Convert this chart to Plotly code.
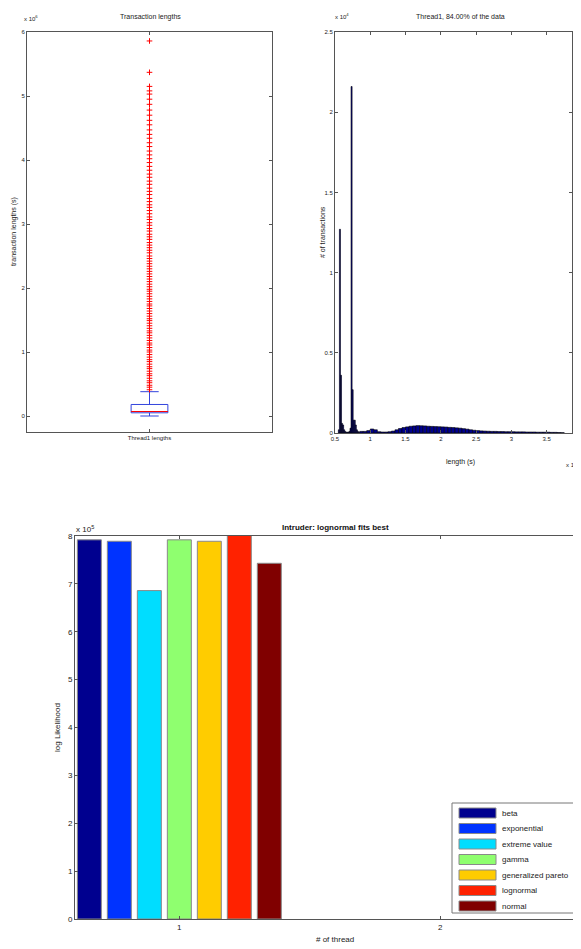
import plotly.graph_objects as go

# window is 581x949; page body has an 8px margin, so the figure is 8px smaller
WIN_W, WIN_H = 581, 949
OFF = 8
W, H = WIN_W - OFF, WIN_H - OFF

# ---------------- data ----------------
# Top-left: boxplot of thread transaction lengths (x 10^6)
box_label = "Thread1 lengths"
box_q1, box_median, box_q3 = 0.05, 0.07, 0.18
box_lower, box_upper = 0.0, 0.38
outliers = [0.41, 0.45, 0.48, 0.52, 0.55, 0.59, 0.63, 0.66, 0.70, 0.74, 0.77, 0.81, 0.85,
            0.88, 0.92, 0.96, 1.00, 1.03, 1.07, 1.11, 1.14, 1.18, 1.22, 1.26, 1.30, 1.33,
            1.37, 1.41, 1.45, 1.49, 1.52, 1.56, 1.60, 1.64, 1.68, 1.72, 1.75, 1.79, 1.83,
            1.87, 1.91, 1.95, 1.98, 2.02, 2.06, 2.10, 2.14, 2.18, 2.22, 2.26, 2.30, 2.34,
            2.38, 2.42, 2.46, 2.50, 2.55, 2.59, 2.63, 2.67, 2.71, 2.76, 2.80, 2.84, 2.89,
            2.93, 2.98, 3.02, 3.07, 3.11, 3.16, 3.21, 3.26, 3.30, 3.35, 3.40, 3.46, 3.51,
            3.56, 3.62, 3.67, 3.73, 3.78, 3.84, 3.90, 3.96, 4.02, 4.08, 4.14, 4.21, 4.27,
            4.34, 4.40, 4.47, 4.55, 4.62, 4.70, 4.78, 4.87, 4.95, 5.03, 5.08, 5.15, 5.37,
            5.86]

# Top-right: histogram of lengths (x 10^6), counts (x 10^4)
hist_centers = [0.555, 0.57, 0.585, 0.60, 0.615, 0.63, 0.645, 0.66, 0.675, 0.69,
                0.705, 0.72, 0.735, 0.75, 0.765, 0.78, 0.795, 0.81, 0.825, 0.84,
                0.875, 0.925, 0.975, 1.025, 1.075, 1.125, 1.175, 1.225, 1.275, 1.325,
                1.375, 1.425, 1.475, 1.525, 1.575, 1.625, 1.675, 1.725, 1.775, 1.825,
                1.875, 1.925, 1.975, 2.025, 2.075, 2.125, 2.175, 2.225, 2.275, 2.325,
                2.375, 2.425, 2.475, 2.525, 2.575, 2.625, 2.675, 2.725, 2.775, 2.825,
                2.875, 2.925, 2.975, 3.025, 3.075, 3.125, 3.175, 3.225, 3.275, 3.325,
                3.375, 3.425, 3.475, 3.525, 3.575, 3.625, 3.675, 3.725]
hist_widths = [0.015] * 20 + [0.05] * 58
hist_counts = [0.02, 1.27, 0.36, 0.06, 0.05, 0.02, 0.01, 0.005, 0.005, 0.005,
               0.01, 0.03, 2.16, 0.27, 0.08, 0.08, 0.05, 0.02, 0.01, 0.005,
               0.01, 0.01, 0.015, 0.025, 0.02, 0.008, 0.006, 0.006, 0.008, 0.012,
               0.02, 0.028, 0.034, 0.038, 0.042, 0.044, 0.046, 0.045, 0.044, 0.042,
               0.041, 0.04, 0.039, 0.038, 0.037, 0.035, 0.034, 0.032, 0.03, 0.027,
               0.024, 0.02, 0.017, 0.015, 0.013, 0.012, 0.011, 0.01, 0.01, 0.009,
               0.009, 0.008, 0.008, 0.008, 0.007, 0.007, 0.007, 0.006, 0.006, 0.006,
               0.005, 0.005, 0.005, 0.005, 0.004, 0.004, 0.003, 0.002]

# Bottom: log likelihood per distribution (x 10^5)
distributions = ["beta", "exponential", "extreme value", "gamma",
                 "generalized pareto", "lognormal", "normal"]
loglik = [7.92, 7.89, 6.86, 7.92, 7.89, 8.02, 7.43]
dist_colors = ["#00008F", "#0033FF", "#00DDFF", "#8FFF6F", "#FFCC00", "#FF2200", "#800000"]
thread_ticks = [1, 2]

# ---------------- figure ----------------
fig = go.Figure()
FONT = "Liberation Sans, Arial, sans-serif"
small = dict(family=FONT, size=6, color="#222")
small7 = dict(family=FONT, size=7, color="#222")
mid = dict(family=FONT, size=8, color="#222")

# top-left box
box_w = 0.15
fig.add_trace(go.Box(
    x=[1], q1=[box_q1], median=[box_median], q3=[box_q3],
    lowerfence=[box_lower], upperfence=[box_upper],
    width=box_w, whiskerwidth=0.5, boxpoints=False,
    line=dict(color="#3344DD", width=1), fillcolor="rgba(0,0,0,0)",
    xaxis="x", yaxis="y", showlegend=False))
fig.add_trace(go.Scatter(
    x=[1 - box_w / 2, 1 + box_w / 2], y=[box_median, box_median], mode="lines",
    line=dict(color="#FF0000", width=1), xaxis="x", yaxis="y", showlegend=False))
fig.add_trace(go.Scatter(
    x=[1] * len(outliers), y=outliers, mode="markers",
    marker=dict(symbol="cross-thin", size=4, line=dict(color="#FF0000", width=1)),
    xaxis="x", yaxis="y", showlegend=False))

# top-right histogram
fig.add_trace(go.Bar(
    x=hist_centers, y=hist_counts, width=hist_widths,
    marker=dict(color="#00008F", line=dict(color="#000000", width=0.6)),
    xaxis="x2", yaxis="y2", showlegend=False))

# bottom grouped bars
step, bw = 0.115, 0.092
n = len(distributions)
for i, (name, v, c) in enumerate(zip(distributions, loglik, dist_colors)):
    fig.add_trace(go.Bar(
        x=[thread_ticks[0]], y=[v], name=name, width=bw,
        offset=(i - (n - 1) / 2) * step - bw / 2,
        marker=dict(color=c, line=dict(color="#8A8A8A", width=1)),
        xaxis="x3", yaxis="y3", showlegend=False))


def px_x(p):
    return (p - OFF) / W


def px_y(p):
    return 1 - (p - OFF) / H


axis_common = dict(showline=True, linecolor="#555", linewidth=1, mirror="ticks",
                   ticks="inside", ticklen=3, tickcolor="#555", showgrid=False,
                   zeroline=False, automargin=False)

fig.update_layout(
    width=W, height=H, margin=dict(l=0, r=0, t=0, b=0),
    plot_bgcolor="white", paper_bgcolor="white", barmode="overlay",
    xaxis=dict(domain=[px_x(27), px_x(272)], range=[0.5, 1.5], tickvals=[1],
               ticktext=[box_label], tickfont=small, anchor="y", **axis_common),
    yaxis=dict(domain=[px_y(432), px_y(32)], range=[-0.25, 6], tickvals=[0, 1, 2, 3, 4, 5, 6],
               tickfont=small, anchor="x", **axis_common),
    xaxis2=dict(domain=[px_x(335), px_x(572)], range=[0.5, 3.86],
                tickvals=[0.5, 1, 1.5, 2, 2.5, 3, 3.5], tickfont=small, anchor="y2",
                **axis_common),
    yaxis2=dict(domain=[px_y(433), px_y(32)], range=[0, 2.5],
                tickvals=[0, 0.5, 1, 1.5, 2, 2.5], tickfont=small, anchor="x2", **axis_common),
    xaxis3=dict(domain=[px_x(75), 1.0], range=[0.6, 2.54], tickvals=thread_ticks,
                tickfont=mid, anchor="y3", **axis_common),
    yaxis3=dict(domain=[px_y(919), px_y(536)], range=[0, 8],
                tickvals=[0, 1, 2, 3, 4, 5, 6, 7, 8], tickfont=mid, anchor="x3", **axis_common),
)

ann = []


def A(text, x, y, font, angle=0, xanchor="center", yanchor="middle"):
    ann.append(dict(text=text, x=px_x(x), y=px_y(y), xref="paper", yref="paper",
                    showarrow=False, font=font, textangle=angle,
                    xanchor=xanchor, yanchor=yanchor))


A("Transaction lengths", 150, 17, small7)
A("x 10<sup>6</sup>", 22, 18, small, xanchor="left")
A("transaction lengths (s)", 14, 232, small7, angle=-90)

A("Thread1, 84.00% of the data", 460, 17, small7)
A("x 10<sup>4</sup>", 333, 16, small, xanchor="left")
A("# of transactions", 322, 232, small7, angle=-90)
A("length (s)", 460, 462, small7)
A("x 10<sup>6</sup>", 564, 464, small, xanchor="left")

A("<b>Intruder: lognormal fits best</b>", 335, 527, dict(family=FONT, size=8, color="#111"))
A("x 10<sup>5</sup>", 74, 529, dict(family=FONT, size=8, color="#222"), xanchor="left")
A("log Likelihood", 57, 728, mid, angle=-90)
A("# of thread", 335, 939, mid)

# manual legend (MATLAB style) for the bottom panel
shapes = [dict(type="rect", xref="paper", yref="paper",
               x0=px_x(452), x1=px_x(600), y0=px_y(913), y1=px_y(803),
               line=dict(color="#777", width=1), fillcolor="white", layer="above")]
for i, (name, c) in enumerate(zip(distributions, dist_colors)):
    yc = 813 + i * 15.5
    shapes.append(dict(type="rect", xref="paper", yref="paper",
                       x0=px_x(459), x1=px_x(496), y0=px_y(yc + 5), y1=px_y(yc - 5),
                       line=dict(color="#8A8A8A", width=1), fillcolor=c, layer="above"))
    A(name, 500, yc, dict(family=FONT, size=8, color="#222"), xanchor="left")

fig.update_layout(annotations=ann, shapes=shapes)
fig.write_html("out.html")
